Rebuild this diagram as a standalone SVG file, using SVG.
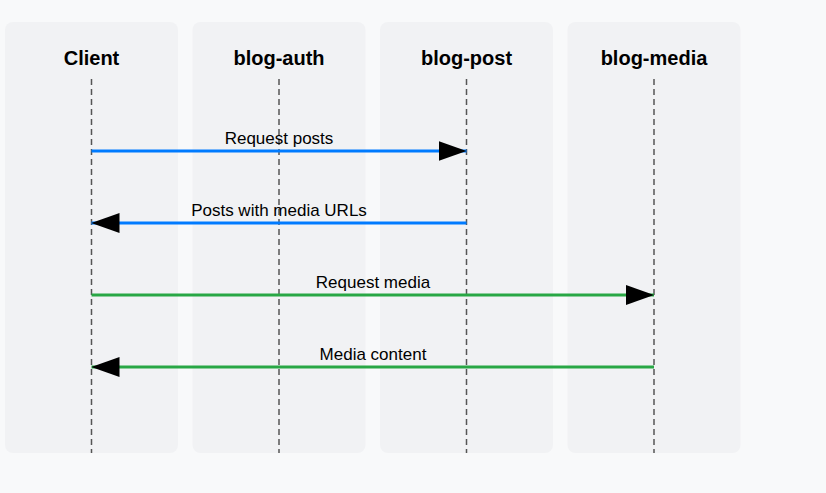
<svg xmlns="http://www.w3.org/2000/svg" width="826" height="493" viewBox="0 0 826 493">
<defs>
<style>
.col{fill:#f1f2f4;}
.title{font-family:"Liberation Sans",Arial,sans-serif;font-size:20px;font-weight:bold;fill:#000;text-anchor:middle;}
.life{stroke:#555;stroke-width:1.5;stroke-dasharray:6,4;fill:none;}
.msg{stroke-width:3;fill:none;}
.blue{stroke:#007bff;}
.green{stroke:#28a745;}
.lbl{font-family:"Liberation Sans",Arial,sans-serif;font-size:17px;fill:#000;text-anchor:middle;}
</style>
<marker id="ah" markerWidth="28" markerHeight="20" refX="28" refY="10" orient="auto" markerUnits="userSpaceOnUse">
<path d="M0,0 L28,10 L0,20 Z" fill="#000"/>
</marker>
</defs>
<rect width="826" height="493" fill="#f8f9fa"/>
<g id="node-client">
<rect class="col" x="5" y="22" width="173" height="431" rx="8"/>
<text class="title" x="91.5" y="65">Client</text>
<line class="life" x1="91.5" y1="79" x2="91.5" y2="453"/>
</g>
<g id="node-blog-auth">
<rect class="col" x="192.5" y="22" width="173" height="431" rx="8"/>
<text class="title" x="279" y="65">blog-auth</text>
<line class="life" x1="279" y1="79" x2="279" y2="453"/>
</g>
<g id="node-blog-post">
<rect class="col" x="380" y="22" width="173" height="431" rx="8"/>
<text class="title" x="466.5" y="65">blog-post</text>
<line class="life" x1="466.5" y1="79" x2="466.5" y2="453"/>
</g>
<g id="node-blog-media">
<rect class="col" x="567.5" y="22" width="173" height="431" rx="8"/>
<text class="title" x="654" y="65">blog-media</text>
<line class="life" x1="654" y1="79" x2="654" y2="453"/>
</g>
<g id="connectors">
<line class="msg blue" x1="91.5" y1="151" x2="466.5" y2="151" marker-end="url(#ah)"/>
<text class="lbl" x="279" y="144">Request posts</text>
<line class="msg blue" x1="466.5" y1="223" x2="91.5" y2="223" marker-end="url(#ah)"/>
<text class="lbl" x="279" y="216">Posts with media URLs</text>
<line class="msg green" x1="91.5" y1="295" x2="654" y2="295" marker-end="url(#ah)"/>
<text class="lbl" x="373" y="288">Request media</text>
<line class="msg green" x1="654" y1="367" x2="91.5" y2="367" marker-end="url(#ah)"/>
<text class="lbl" x="373" y="360">Media content</text>
</g>
</svg>
